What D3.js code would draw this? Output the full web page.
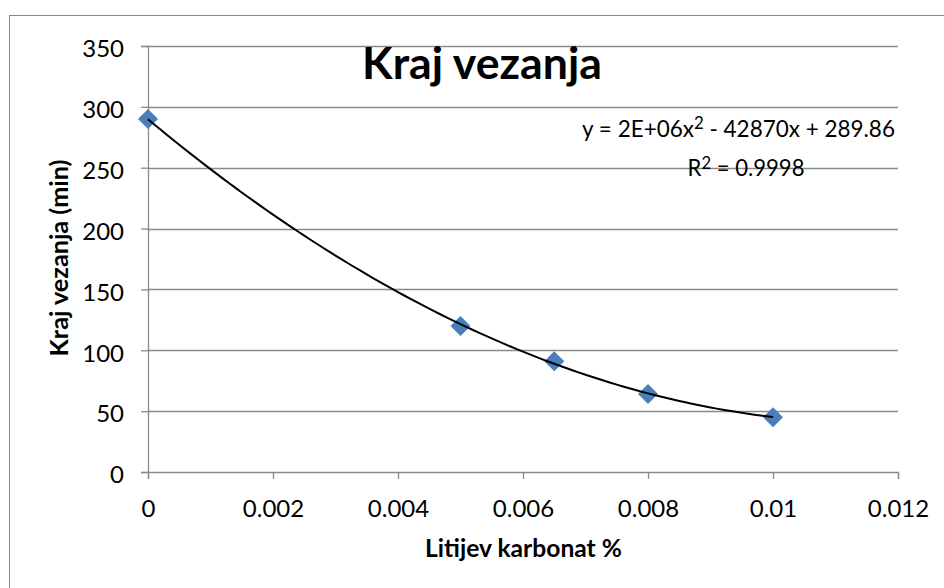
<!DOCTYPE html>
<html>
<head>
<meta charset="utf-8">
<script src="https://cdn.jsdelivr.net/npm/d3@7"></script>
<style>
  html, body { margin: 0; padding: 0; background: #ffffff; }
  svg { display: block; }
  text { font-family: Lato, "Open Sans", sans-serif; fill: #000; }
</style>
</head>
<body>
<svg id="chart" width="944" height="588"></svg>
<script>
// ---- data ----
const xValues = [0, 0.005, 0.0065, 0.008, 0.01];
const yValues = [290, 120, 91, 64, 45];
const xTicks = [0, 0.002, 0.004, 0.006, 0.008, 0.01, 0.012];
const xTickLabels = ["0", "0.002", "0.004", "0.006", "0.008", "0.01", "0.012"];
const yTicks = [0, 50, 100, 150, 200, 250, 300, 350];
const titleText = "Kraj vezanja";
const xTitle = "Litijev karbonat %";
const yTitle = "Kraj vezanja (min)";
const eqParts = ["y = 2E+06x", "2", " - 42870x + 289.86"];
const r2Parts = ["R", "2", " = 0.9998"];

const svg = d3.select("#chart");

// chart border (extends past the right/bottom edges as in the reference)
svg.append("rect")
  .attr("x", 9.5).attr("y", 15.5)
  .attr("width", 960).attr("height", 600)
  .attr("fill", "#fff").attr("stroke", "#868686").attr("stroke-width", 1);

const x = d3.scaleLinear().domain([0, 0.012]).range([148, 898]);
const y = d3.scaleLinear().domain([0, 350]).range([472, 46]);

const gridColor = "#8a8a8a";
const tickFont = "24px";

// gridlines
svg.append("g").selectAll("line")
  .data(yTicks.filter(d => d > 0))
  .join("line")
  .attr("x1", x(0)).attr("x2", x(0.012))
  .attr("y1", d => Math.round(y(d)) + 0.5).attr("y2", d => Math.round(y(d)) + 0.5)
  .attr("stroke", gridColor).attr("stroke-width", 1.3);

// y axis
const yAxis = d3.axisLeft(y).tickValues(yTicks).tickSize(7).tickPadding(17)
  .tickFormat(d3.format("d"));
const gy = svg.append("g").attr("transform", `translate(${x(0)},0)`).call(yAxis);
gy.attr("font-family", null);
gy.select(".domain").attr("stroke", gridColor).attr("stroke-width", 1.3);
gy.selectAll(".tick line").attr("stroke", gridColor).attr("stroke-width", 1.3);
gy.selectAll(".tick text").style("font-size", tickFont).style("font-family", "Lato").attr("dy", "0.45em");

// x axis
const xAxis = d3.axisBottom(x).tickValues(xTicks).tickSize(7).tickPadding(21)
  .tickFormat((d, i) => xTickLabels[i]);
const gx = svg.append("g").attr("transform", `translate(0,${y(0)})`).call(xAxis);
gx.attr("font-family", null);
gx.select(".domain").attr("stroke", gridColor).attr("stroke-width", 1.3);
gx.selectAll(".tick line").attr("stroke", gridColor).attr("stroke-width", 1.3);
gx.selectAll(".tick text").style("font-size", tickFont).style("font-family", "Lato").attr("dy", "0.71em");

// markers
const pts = xValues.map((v, i) => [v, yValues[i]]);
svg.append("g").selectAll("path")
  .data(pts)
  .join("path")
  .attr("d", d3.symbol(d3.symbolSquare, 200))
  .attr("transform", d => `translate(${x(d[0])},${y(d[1])}) rotate(45)`)
  .attr("fill", "#4a7ebb");

// polynomial (order 2) least-squares trendline through the data
function polyFit2(xs, ys) {
  const n = xs.length;
  let s = [0,0,0,0,0], t = [0,0,0];
  for (let i = 0; i < n; i++) {
    const xi = xs[i], yi = ys[i];
    for (let k = 0; k <= 4; k++) s[k] += Math.pow(xi, k);
    for (let k = 0; k <= 2; k++) t[k] += yi * Math.pow(xi, k);
  }
  const A = [[s[0], s[1], s[2], t[0]], [s[1], s[2], s[3], t[1]], [s[2], s[3], s[4], t[2]]];
  for (let c = 0; c < 3; c++) {
    let p = c;
    for (let r = c + 1; r < 3; r++) if (Math.abs(A[r][c]) > Math.abs(A[p][c])) p = r;
    [A[c], A[p]] = [A[p], A[c]];
    for (let r = 0; r < 3; r++) {
      if (r === c) continue;
      const f = A[r][c] / A[c][c];
      for (let k = c; k < 4; k++) A[r][k] -= f * A[c][k];
    }
  }
  return [A[0][3] / A[0][0], A[1][3] / A[1][1], A[2][3] / A[2][2]];
}
const coef = polyFit2(xValues, yValues);
const fitX = d3.range(0, 101).map(i => d3.min(xValues) + (d3.max(xValues) - d3.min(xValues)) * i / 100);
const line = d3.line().x(d => x(d)).y(d => y(coef[0] + coef[1] * d + coef[2] * d * d));
svg.append("path").datum(fitX).attr("d", line)
  .attr("fill", "none").attr("stroke", "#000").attr("stroke-width", 2);

// fit text to target width
function fitWidth(sel, target) {
  const w = sel.node().getComputedTextLength();
  const fs = parseFloat(sel.style("font-size"));
  sel.style("font-size", (fs * target / w) + "px");
}

// title
const tt = svg.append("text").attr("x", 482).attr("y", 79)
  .attr("text-anchor", "middle").style("font-weight", "bold").style("font-size", "37px").text(titleText);
fitWidth(tt, 240);

// axis titles
const xt = svg.append("text").attr("x", 523.5).attr("y", 557)
  .attr("text-anchor", "middle").style("font-weight", "bold").style("font-size", "20px").text(xTitle);
fitWidth(xt, 197);
const yt = svg.append("text").attr("transform", "translate(68,258) rotate(-90)")
  .attr("text-anchor", "middle").style("font-weight", "bold").style("font-size", "20px").text(yTitle);
fitWidth(yt, 197);

// equation labels
function supText(parts, cx, by, target) {
  const t = svg.append("text").attr("x", cx).attr("y", by).attr("text-anchor", "middle")
    .style("font-size", "20px");
  t.append("tspan").text(parts[0]);
  t.append("tspan").attr("dy", "-0.45em").style("font-size", "0.75em").text(parts[1]);
  t.append("tspan").attr("dy", "0.34em").text(parts[2]);
  fitWidth(t, target);
  return t;
}
supText(eqParts, 738.5, 137, 313);
supText(r2Parts, 746, 176, 117);
</script>
</body>
</html>
